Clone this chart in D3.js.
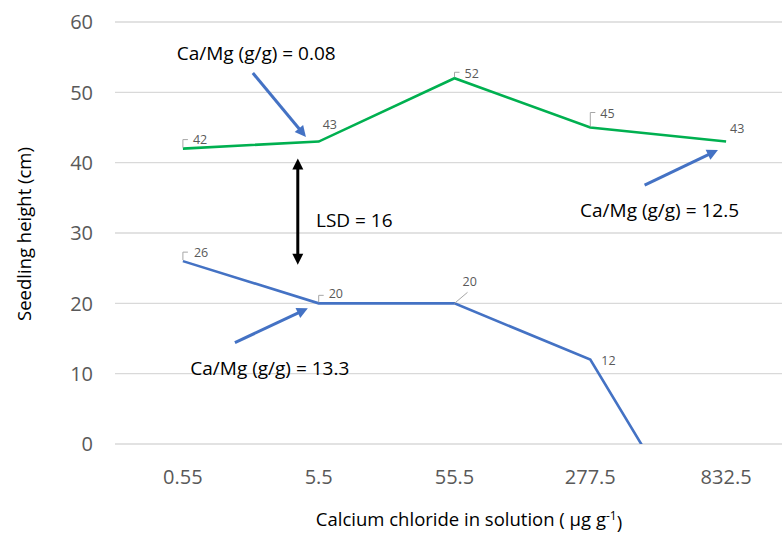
<!DOCTYPE html>
<html><head><meta charset="utf-8">
<script src="https://cdn.jsdelivr.net/npm/d3@7"></script>
<style>body{margin:0;background:#fff}svg{display:block}</style>
</head><body>
<svg id="c" width="782" height="534"></svg>
<script>
// ---- data ----
const categories = ["0.55", "5.5", "55.5", "277.5", "832.5"];
const greenValues = [42, 43, 52, 45, 43];      // Ca/Mg high
const blueValues  = [26, 20, 20, 12, -20];     // last point falls below axis (clipped)
const yTicks = [0, 10, 20, 30, 40, 50, 60];
const yTitle = "Seedling height (cm)";
const xTitle = "Calcium chloride in solution ( μg g";
// label placement styling (pixel offsets and leader type) per point
const greenLabelStyle = [
  {dx: 10, dy: -9, leader: "bracket", lh: 9},
  {dx: 4,  dy: -17, leader: "none"},
  {dx: 10, dy: -5, leader: "bracket", lh: 6},
  {dx: 10, dy: -14.5, leader: "bracket", lh: 15},
  {dx: 4,  dy: -13.5, leader: "none"}
];
const blueLabelStyle = [
  {dx: 11, dy: -8.5, leader: "bracket", lh: 9},
  {dx: 10, dy: -9.5, leader: "bracket", lh: 8},
  {dx: 8,  dy: -21.5, leader: "diag"},
  {dx: 11, dy: 1, leader: "none"},
  null
];

(function () {
const svg = d3.select("#c");
const W = 782;
const plotLeft = 115, plotTop = 22, plotBottom = 444;
const x = d3.scaleBand().domain(categories).range([plotLeft, plotLeft + 5 * 135.8]).paddingInner(0).paddingOuter(0);
const xc = c => x(c) + x.bandwidth() / 2;
const xi = d3.scaleLinear().domain([0, 4]).range([xc(categories[0]), xc(categories[4])]);
const y = d3.scaleLinear().domain([0, 60]).range([plotBottom, plotTop]);

const font = "'Open Sans', 'DejaVu Sans', sans-serif";

// gridlines
svg.append("g").selectAll("line").data(yTicks).join("line")
  .attr("x1", plotLeft).attr("x2", W).attr("y1", d => y(d)).attr("y2", d => y(d))
  .attr("stroke", "#d9d9d9").attr("stroke-width", 1.3);

// y tick labels
svg.append("g").selectAll("text").data(yTicks).join("text")
  .attr("x", 93).attr("y", d => y(d)).attr("dy", "0.36em")
  .attr("text-anchor", "end").attr("font-family", font).attr("font-size", 20)
  .attr("fill", "#595959").text(d => d);

// x tick labels
svg.append("g").selectAll("text").data(categories).join("text")
  .attr("x", d => xc(d)).attr("y", 477).attr("dy", "0.36em")
  .attr("text-anchor", "middle").attr("font-family", font).attr("font-size", 20)
  .attr("fill", "#595959").text(d => d);

// axis titles
const xt = svg.append("text").attr("x", 469).attr("y", 519).attr("dy", "0.36em")
  .attr("text-anchor", "middle").attr("font-family", font).attr("font-size", 18.5)
  .attr("fill", "#000");
xt.append("tspan").text(xTitle);
xt.append("tspan").attr("dy", "-0.45em").attr("font-size", 12).text("-1");
xt.append("tspan").attr("dy", "0.45em").text(")");

svg.append("text").attr("transform", "translate(24,234) rotate(-90)").attr("dy", "0.36em")
  .attr("text-anchor", "middle").attr("font-family", font).attr("font-size", 18.5)
  .attr("fill", "#000").text(yTitle);

// clip
svg.append("defs").append("clipPath").attr("id", "plot")
  .append("rect").attr("x", plotLeft).attr("y", 0).attr("width", W - plotLeft).attr("height", plotBottom);

const line = d3.line().x((d, i) => xc(categories[i])).y(d => y(d));
svg.append("path").datum(greenValues).attr("d", line).attr("fill", "none")
  .attr("stroke", "#00B050").attr("stroke-width", 2.6).attr("clip-path", "url(#plot)");
svg.append("path").datum(blueValues).attr("d", line).attr("fill", "none")
  .attr("stroke", "#4472C4").attr("stroke-width", 2.6).attr("clip-path", "url(#plot)");

// data labels
function labels(values, styles) {
  const g = svg.append("g");
  values.forEach((v, i) => {
    const s = styles[i];
    if (!s || v < 0) return;
    const px = xc(categories[i]), py = y(v);
    if (s.leader === "bracket") {
      g.append("path").attr("d", `M${px},${py - 1}V${py - s.lh}h5`)
        .attr("fill", "none").attr("stroke", "#a6a6a6").attr("stroke-width", 1);
    } else if (s.leader === "diag") {
      g.append("line").attr("x1", px).attr("y1", py).attr("x2", px + 13).attr("y2", py - 11)
        .attr("stroke", "#a6a6a6").attr("stroke-width", 1);
    }
    g.append("text").attr("x", px + s.dx).attr("y", py + s.dy).attr("dy", "0.36em")
      .attr("font-family", font).attr("font-size", 12.5).attr("fill", "#595959").text(v);
  });
}
labels(greenValues, greenLabelStyle);
labels(blueValues, blueLabelStyle);

// annotations
function arrow(x1, y1, x2, y2, color, both) {
  const g = svg.append("g");
  const ang = Math.atan2(y2 - y1, x2 - x1);
  const L = 11, Wd = 5.5;
  function head(tx, ty, a) {
    const bx = tx - L * Math.cos(a), by = ty - L * Math.sin(a);
    const nx = -Math.sin(a) * Wd, ny = Math.cos(a) * Wd;
    g.append("path").attr("d", `M${tx},${ty}L${bx + nx},${by + ny}L${bx - nx},${by - ny}Z`).attr("fill", color);
  }
  const sx = both ? x1 + (L - 1) * Math.cos(ang) : x1, sy = both ? y1 + (L - 1) * Math.sin(ang) : y1;
  g.append("line").attr("x1", sx).attr("y1", sy)
    .attr("x2", x2 - (L - 1) * Math.cos(ang)).attr("y2", y2 - (L - 1) * Math.sin(ang))
    .attr("stroke", color).attr("stroke-width", 3);
  head(x2, y2, ang);
  if (both) head(x1, y1, ang + Math.PI);
}
const blue = "#4472C4";
arrow(xi(0.515), y(52.75), xi(0.906), y(43.65), blue);
arrow(xi(3.40), y(36.8), xi(3.94), y(41.8), blue);
arrow(xi(0.383), y(14.4), xi(0.92), y(19.3), blue);
arrow(xi(0.846), y(40.6), xi(0.846), y(25.5), "#000", true);

function note(t, xv, yv, anchor) {
  svg.append("text").attr("x", xi(xv)).attr("y", y(yv)).attr("dy", "0.36em")
    .attr("text-anchor", anchor).attr("font-family", font).attr("font-size", 19)
    .attr("fill", "#000").text(t);
}
note("Ca/Mg (g/g) = 0.08", 0.54, 55.6, "middle");
note("LSD = 16", 0.98, 31.85, "start");
note("Ca/Mg (g/g) = 12.5", 3.51, 33.3, "middle");
note("Ca/Mg (g/g) = 13.3", 0.64, 10.8, "middle");
})();
</script>
</body></html>
